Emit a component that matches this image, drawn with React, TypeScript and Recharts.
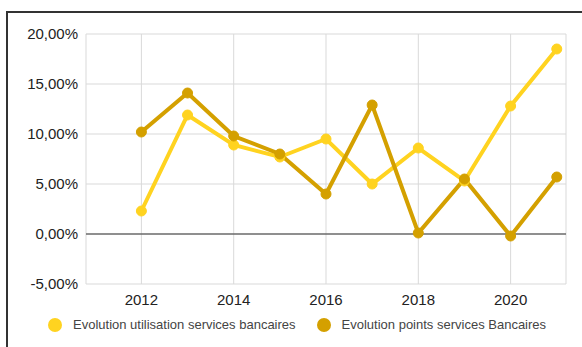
import React from 'react';
import { LineChart, Line, XAxis, YAxis, CartesianGrid, ReferenceLine, Legend } from 'recharts';

const years = [2012, 2013, 2014, 2015, 2016, 2017, 2018, 2019, 2020, 2021];
const utilisation = [2.3, 11.9, 8.9, 7.7, 9.5, 5.0, 8.6, 5.3, 12.8, 18.5];
const points = [10.2, 14.1, 9.8, 8.0, 4.0, 12.9, 0.1, 5.5, -0.2, 5.7];
const yTicks = [-5, 0, 5, 10, 15, 20];
const xTicks = [2012, 2014, 2016, 2018, 2020];
const seriesNames = ['Evolution utilisation services bancaires', 'Evolution points services Bancaires'];
const colors = ['#ffd320', '#d4a000'];

const data = years.map((y, i) => ({ year: y, util: utilisation[i], pts: points[i] }));

const FONT = '"Liberation Sans", Arial, sans-serif';

const fmt = (v: number) => v.toFixed(2).replace('.', ',') + '%';

const LegendContent = () => (
  <div style={{ display: 'flex', alignItems: 'center', paddingLeft: 48, fontFamily: FONT, fontSize: 13, color: '#444' }}>
    {seriesNames.map((n, i) => (
      <div key={n} style={{ display: 'flex', alignItems: 'center', marginRight: 21 }}>
        <span style={{ display: 'inline-block', width: 14, height: 14, borderRadius: 7, background: colors[i], marginRight: 11 }} />
        <span>{n}</span>
      </div>
    ))}
  </div>
);

export default function App() {
  return (
    <div style={{ position: 'absolute', left: 0, top: 0, width: 582, height: 347, background: '#fff', overflow: 'hidden' }}>
      <div style={{ position: 'absolute', left: 6, top: 11, width: 600, height: 400, borderLeft: '2px solid #333', borderTop: '2px solid #333' }} />
      <div style={{ position: 'absolute', left: 0, top: 0 }}>
        <LineChart width={582} height={347} data={data} margin={{ top: 34, right: 16, bottom: 33, left: 6 }}>
          <CartesianGrid stroke="#d9d9d9" strokeWidth={1} />
          <XAxis
            dataKey="year"
            type="number"
            domain={[2010.8, 2021.2]}
            ticks={xTicks}
            axisLine={false}
            tickLine={false}
            tickMargin={4}
            height={30}
            tick={{ fill: '#222', fontSize: 15, fontFamily: FONT }}
          />
          <YAxis
            type="number"
            domain={[-5, 20]}
            ticks={yTicks}
            axisLine={false}
            tickLine={false}
            width={80}
            tickFormatter={fmt}
            tick={{ fill: '#222', fontSize: 15, fontFamily: FONT }}
          />
          <ReferenceLine y={0} stroke="#333" strokeWidth={1} />
          <Legend
            layout="horizontal"
            verticalAlign="middle"
            align="center"
            content={<LegendContent />}
            wrapperStyle={{ top: 317, left: 0, width: 582 }}
          />
          <Line dataKey="util" name={seriesNames[0]} stroke={colors[0]} strokeWidth={4} dot={{ r: 5, fill: colors[0], stroke: colors[0], strokeWidth: 1 }} isAnimationActive={false} />
          <Line dataKey="pts" name={seriesNames[1]} stroke={colors[1]} strokeWidth={4} dot={{ r: 5, fill: colors[1], stroke: colors[1], strokeWidth: 1 }} isAnimationActive={false} />
        </LineChart>
      </div>
    </div>
  );
}
